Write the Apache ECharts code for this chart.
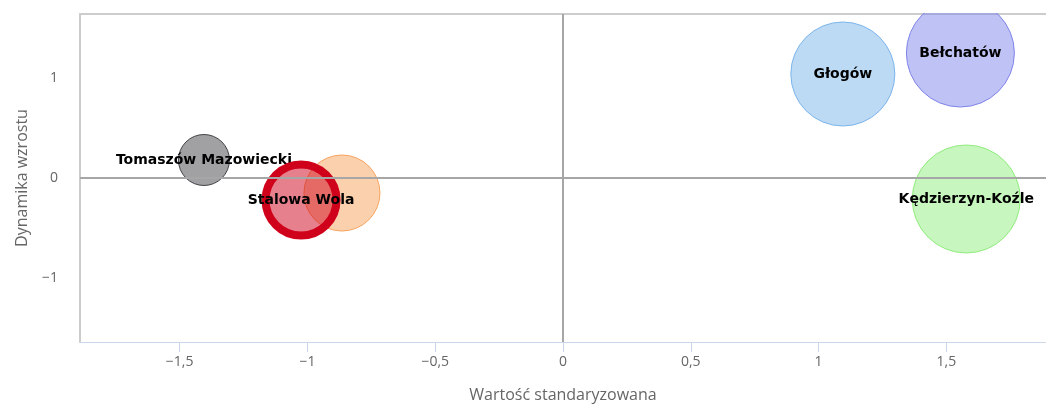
<!DOCTYPE html>
<html>
<head>
<meta charset="utf-8">
<script src="https://cdn.jsdelivr.net/npm/echarts@6/dist/echarts.min.js"></script>
<style>
  html, body { margin: 0; padding: 0; background: #fff; }
  #main { width: 1046px; height: 405px; }
</style>
</head>
<body>
<div id="main"></div>
<script>
// cities (orange bubble has no visible label)
var names  = ['Tomaszów Mazowiecki', '', 'Stalowa Wola', 'Głogów', 'Bełchatów', 'Kędzierzyn-Koźle'];
var xVals  = [-1.405, -0.865, -1.025, 1.095, 1.555, 1.578];
var yVals  = [0.18, -0.15, -0.22, 1.04, 1.25, -0.21];
var bubble = [51, 76, 71, 104, 108, 108];   // bubble diameter
var xTicks = [-1.5, -1, -0.5, 0, 0.5, 1, 1.5];
var yTicks = [-1, 0, 1];

var colors = ['#434348', '#f7a35c', '#d0021b', '#7cb5ec', '#8085e9', '#90ed7d'];

function fmt(v) {
    return String(v).replace('-', '\u2212').replace('.', ',');
}

var series = [{
    type: 'scatter',
    data: [],
    z: 1,
    silent: true,
    markLine: {
        silent: true,
        symbol: 'none',
        label: { show: false },
        lineStyle: { color: '#a6a6a6', width: 2, type: 'solid' },
        data: [{ xAxis: 0 }, { yAxis: 0 }]
    }
}];

names.forEach(function (n, i) {
    var highlight = n === 'Stalowa Wola';
    series.push({
        type: 'scatter',
        name: n,
        z: highlight ? 4 : 2,
        data: [[xVals[i], yVals[i], bubble[i]]],
        symbolSize: function (d) { return d[2]; },
        itemStyle: {
            color: echarts.color.modifyAlpha(colors[i], 0.5),
            opacity: 1,
            borderColor: colors[i],
            borderWidth: highlight ? 8 : 1
        },
        label: {
            show: n !== '',
            position: 'inside',
            formatter: n,
            color: '#000',
            fontFamily: 'DejaVu Sans',
            fontWeight: 'bold',
            fontSize: 14
        },
        emphasis: { disabled: true }
    });
});

var myChart = echarts.init(document.getElementById('main'));
var option = {
    backgroundColor: '#fff',
    animation: false,
    grid: { left: 80, right: 0, top: 14, bottom: 63, outerBoundsMode: 'none', containLabel: false },
    // hides the part of a bubble that runs above the plot area
    graphic: [{
        type: 'rect',
        left: 0,
        top: 0,
        z: 50,
        silent: true,
        shape: { width: 1046, height: 13 },
        style: { fill: '#fff' }
    }],
    xAxis: [{
        type: 'value',
        min: -1.89,
        max: 1.89,
        name: 'Wartość standaryzowana',
        nameLocation: 'middle',
        nameGap: 45,
        nameTextStyle: { color: '#666', fontSize: 16, fontFamily: 'Open Sans' },
        axisLine: { show: true, onZero: false, lineStyle: { color: '#ccd6eb', width: 1 } },
        axisTick: { show: true, customValues: xTicks, length: 10, lineStyle: { color: '#ccd6eb' } },
        axisLabel: { customValues: xTicks, formatter: fmt, color: '#666', fontSize: 14, fontFamily: 'Open Sans', margin: 13 },
        splitLine: { show: false }
    }, {
        type: 'value',
        position: 'top',
        min: -1.89,
        max: 1.89,
        axisLine: { show: true, onZero: false, lineStyle: { color: '#ccc', width: 2 } },
        axisTick: { show: false },
        axisLabel: { show: false },
        splitLine: { show: false }
    }],
    yAxis: {
        type: 'value',
        min: -1.64,
        max: 1.64,
        name: 'Dynamika wzrostu',
        nameLocation: 'middle',
        nameGap: 50,
        nameTextStyle: { color: '#666', fontSize: 16, fontFamily: 'Open Sans' },
        axisLine: { show: true, onZero: false, lineStyle: { color: '#ccc', width: 2 } },
        axisTick: { show: false },
        axisLabel: { customValues: yTicks, formatter: fmt, color: '#666', fontSize: 14, fontFamily: 'Open Sans', margin: 22 },
        splitLine: { show: false }
    },
    series: series
};
myChart.setOption(option);
</script>
</body>
</html>
